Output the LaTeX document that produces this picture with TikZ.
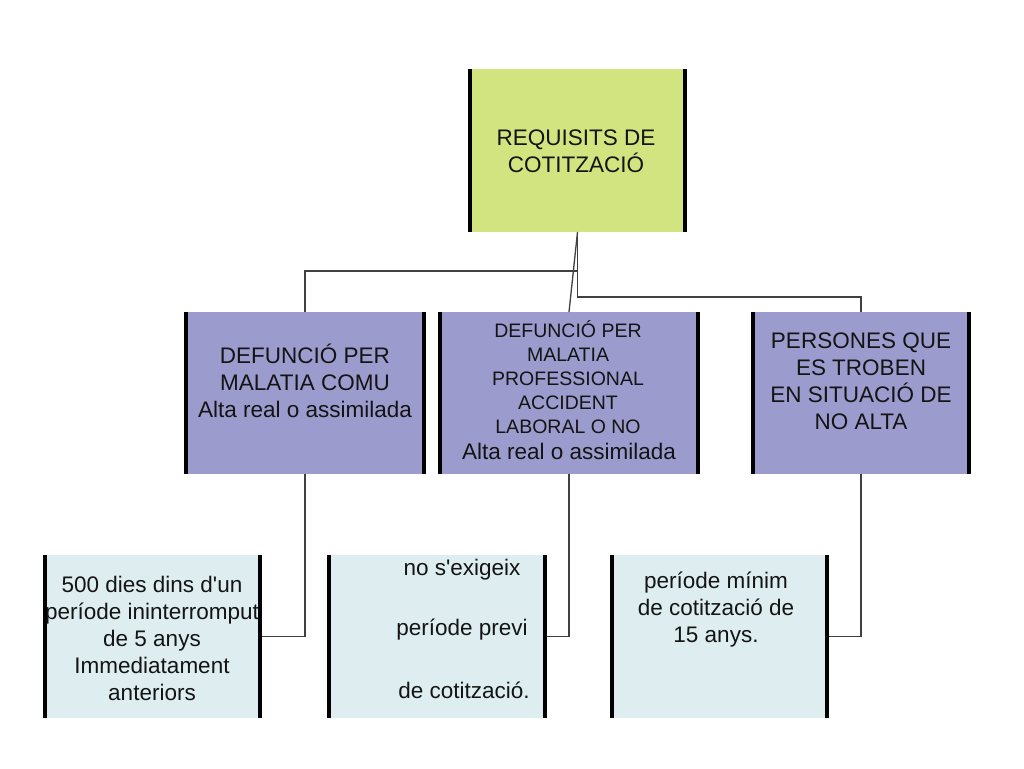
\documentclass[tikz,border=0pt]{standalone}
\usepackage{fontspec}
\setmainfont{Liberation Sans}[Ligatures=TeXOff]
\definecolor{topgreen}{RGB}{209,228,128}
\definecolor{midpurple}{RGB}{155,155,206}
\definecolor{lowblue}{RGB}{222,238,240}
\definecolor{ink}{RGB}{20,20,20}
\begin{document}
\begin{tikzpicture}[x=1pt,y=-1pt,
 box/.style={draw=none,inner sep=0pt,outer sep=0pt,anchor=north west},
 bars/.style={line width=4pt,draw=black},
 conn/.style={line width=1.3pt,draw=black!75},
 txt/.style={align=center,text=ink,font=\fontsize{22.5}{27}\selectfont,inner sep=0pt},
 small/.style={align=center,text=ink,font=\fontsize{19.5}{24}\selectfont,inner sep=0pt}]
\useasboundingbox[fill=white] (0,0) rectangle (1024,768);
% boxes
\node[box,fill=topgreen,minimum width=215pt,minimum height=163pt] (top) at (470,69) {};
\node[box,fill=midpurple,minimum width=238pt,minimum height=162pt] (m1) at (186,312) {};
\node[box,fill=midpurple,minimum width=258pt,minimum height=162pt] (m2) at (440,312) {};
\node[box,fill=midpurple,minimum width=216pt,minimum height=162pt] (m3) at (753,312) {};
\node[box,fill=lowblue,minimum width=215pt,minimum height=163pt] (b1) at (45,555) {};
\node[box,fill=lowblue,minimum width=216pt,minimum height=163pt] (b2) at (329,555) {};
\node[box,fill=lowblue,minimum width=215pt,minimum height=163pt] (b3) at (612,555) {};
% connectors
\draw[conn] (top.south) -- ++(0,39) -| (m1.north);
\draw[conn] (top.south) -- (m2.north);
\draw[conn] (top.south) -- ++(0,65) -| (m3.north);
\draw[conn] (m1.south) |- (b1.east);
\draw[conn] (m2.south) |- (b2.east);
\draw[conn] (m3.south) |- (b3.east);
% texts
\node[txt] (ttop) at (576,151) {REQUISITS DE\\ COTITZACIÓ};
\node[txt] (tm1) at (305,381) {DEFUNCIÓ PER\\ MALATIA COMU\\ Alta real o assimilada};
\node[small] (tm2a) at (568,377) {DEFUNCIÓ PER\\ MALATIA\\ PROFESSIONAL\\ ACCIDENT\\ LABORAL O NO};
\node[txt] (tm2b) at (569,451) {Alta real o assimilada};
\node[txt] (tm3) at (861,381) {PERSONES QUE\\ ES TROBEN\\ EN SITUACIÓ DE\\ NO ALTA};
\begin{scope}
\clip (b1.north west) rectangle (b1.south east);
\node[txt] (tb1) at (152,638) {500 dies dins d'un\\ període ininterromput\\ de 5 anys\\ Immediatament\\ anteriors};
\end{scope}
\node[txt] (tb2a) at (462,570) {no s'exigeix};
\node[txt] (tb2b) at (462,630) {període previ};
\node[txt] (tb2c) at (464,690) {de cotització.};
\node[txt] (tb3) at (716,610) {període mínim\\ de cotització de\\ 15 anys.};
% side bars
\foreach \n in {top,m1,m2,m3,b1,b2,b3}{
  \draw[bars] (\n.north west) -- (\n.south west);
  \draw[bars] (\n.north east) -- (\n.south east);
}
\end{tikzpicture}
\end{document}
